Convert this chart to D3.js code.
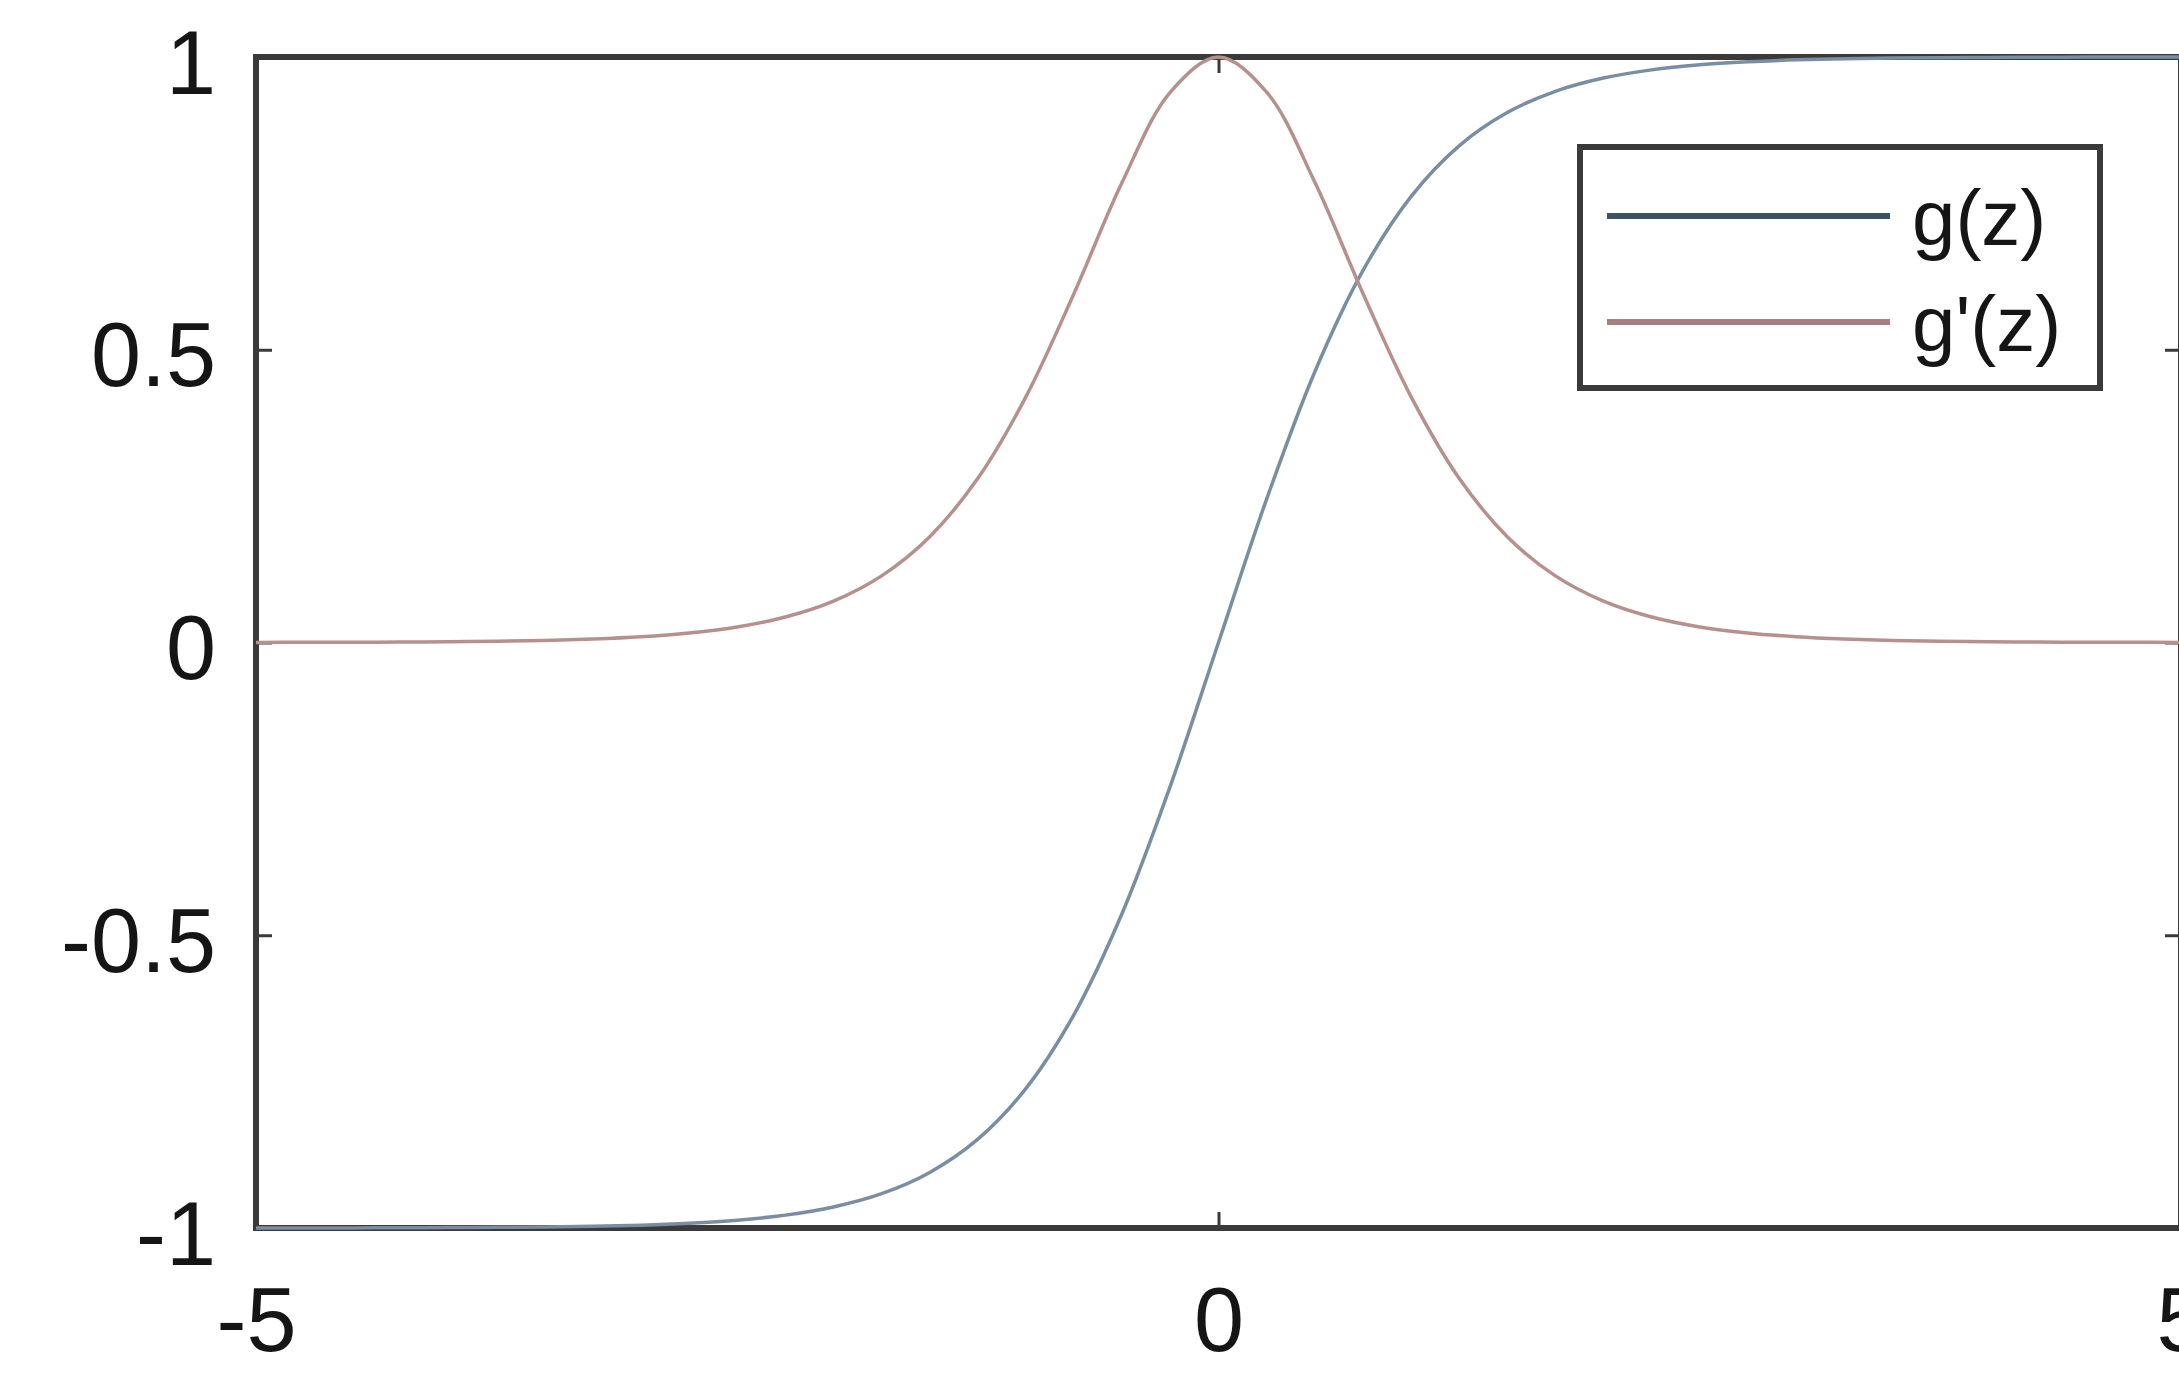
<!DOCTYPE html>
<html>
<head>
<meta charset="utf-8">
<script src="https://cdn.jsdelivr.net/npm/d3@7"></script>
<style>
  html, body { margin: 0; padding: 0; background: #ffffff; }
  svg { display: block; }
  text { font-family: "Liberation Sans", Arial, Helvetica, sans-serif; fill: #151515; }
</style>
</head>
<body>
<svg id="chart" width="2179" height="1373"></svg>
<script>
// ---- data ----
const zValues = [-5, -4.75, -4.5, -4.25, -4, -3.75, -3.5, -3.25, -3, -2.75, -2.5, -2.25, -2, -1.75, -1.5, -1.25, -1, -0.75, -0.5, -0.25,
                 0, 0.25, 0.5, 0.75, 1, 1.25, 1.5, 1.75, 2, 2.25, 2.5, 2.75, 3, 3.25, 3.5, 3.75, 4, 4.25, 4.5, 4.75, 5];
const gValues = [-0.9999, -0.9999, -0.9998, -0.9996, -0.9993, -0.9989, -0.9982, -0.997, -0.9951, -0.9918, -0.9866, -0.978, -0.964, -0.9414, -0.9051, -0.8483, -0.7616, -0.6351, -0.4621, -0.2449,
                 0, 0.2449, 0.4621, 0.6351, 0.7616, 0.8483, 0.9051, 0.9414, 0.964, 0.978, 0.9866, 0.9918, 0.9951, 0.997, 0.9982, 0.9989, 0.9993, 0.9996, 0.9998, 0.9999, 0.9999];
const gPrimeValues = [0.0002, 0.0003, 0.0005, 0.0008, 0.0013, 0.0022, 0.0036, 0.006, 0.0099, 0.0164, 0.0266, 0.0435, 0.0707, 0.1138, 0.1807, 0.2805, 0.42, 0.5966, 0.7864, 0.94,
                      1, 0.94, 0.7864, 0.5966, 0.42, 0.2805, 0.1807, 0.1138, 0.0707, 0.0435, 0.0266, 0.0164, 0.0099, 0.006, 0.0036, 0.0022, 0.0013, 0.0008, 0.0005, 0.0003, 0.0002];
const xTicks = [-5, 0, 5];
const yTicks = [-1, -0.5, 0, 0.5, 1];
const seriesNames = ["g(z)", "g'(z)"];

(function () {
  // ---- layout ----
  const plotL = 256, plotR = 2181, plotT = 57, plotB = 1228;
  const svg = d3.select("#chart");
  svg.append("rect").attr("width", 2179).attr("height", 1373).attr("fill", "#ffffff");

  const x = d3.scaleLinear().domain([-5, 5]).range([plotL, plotR]);
  const y = d3.scaleLinear().domain([-1, 1]).range([plotB, plotT]);

  const frameColor = "#3a3a3a";
  const tickFont = 90;

  // axes (ticks inward)
  const gLeft = svg.append("g").attr("transform", `translate(${plotL},0)`)
    .call(d3.axisLeft(y).tickValues(yTicks).tickSize(-16).tickSizeOuter(0).tickPadding(40)
          .tickFormat(d => String(d)));

  const gBottom = svg.append("g").attr("transform", `translate(0,${plotB})`)
    .call(d3.axisBottom(x).tickValues(xTicks).tickSize(-16).tickSizeOuter(0).tickPadding(59)
          .tickFormat(d => String(d)));

  const gTop = svg.append("g").attr("transform", `translate(0,${plotT})`)
    .call(d3.axisTop(x).tickValues(xTicks).tickSize(-16).tickSizeOuter(0).tickFormat(""));
  const gRight = svg.append("g").attr("transform", `translate(${plotR},0)`)
    .call(d3.axisRight(y).tickValues(yTicks).tickSize(-16).tickSizeOuter(0).tickFormat(""));

  [gLeft, gBottom, gTop, gRight].forEach(g => {
    g.select(".domain").remove();
    g.selectAll(".tick line").attr("stroke", frameColor).attr("stroke-width", 3);
    g.selectAll(".tick text")
      .style("font-family", "'Liberation Sans', Arial, Helvetica, sans-serif")
      .style("font-size", tickFont + "px")
      .attr("fill", "#151515");
  });
  gLeft.selectAll(".tick text").attr("dy", "0.4em");

  // frame
  svg.append("rect")
    .attr("x", plotL).attr("y", plotT)
    .attr("width", plotR - plotL).attr("height", plotB - plotT)
    .attr("fill", "none").attr("stroke", frameColor).attr("stroke-width", 6);

  // curves
  const pointsG = zValues.map((z, i) => [z, gValues[i]]);
  const pointsGP = zValues.map((z, i) => [z, gPrimeValues[i]]);
  const line = d3.line().x(d => x(d[0])).y(d => y(d[1])).curve(d3.curveCatmullRom.alpha(0.5));

  const curveColors = ["#7a8ea3", "#b5908d"];
  svg.append("path").datum(pointsG).attr("d", line)
    .attr("fill", "none").attr("stroke", curveColors[0]).attr("stroke-width", 3.5);
  svg.append("path").datum(pointsGP).attr("d", line)
    .attr("fill", "none").attr("stroke", curveColors[1]).attr("stroke-width", 3.5);

  // legend
  const legendColors = ["#3d5468", "#a67f80"];
  const lg = svg.append("g");
  lg.append("rect").attr("x", 1580).attr("y", 147).attr("width", 520).attr("height", 241)
    .attr("fill", "#ffffff").attr("stroke", frameColor).attr("stroke-width", 6);
  const rowY = [216, 322];
  seriesNames.forEach((name, i) => {
    lg.append("line").attr("x1", 1607).attr("x2", 1890).attr("y1", rowY[i]).attr("y2", rowY[i])
      .attr("stroke", legendColors[i]).attr("stroke-width", 6);
    lg.append("text").attr("x", 1912).attr("y", rowY[i] + 29)
      .style("font-size", "78px").text(name);
  });
})();
</script>
</body>
</html>
